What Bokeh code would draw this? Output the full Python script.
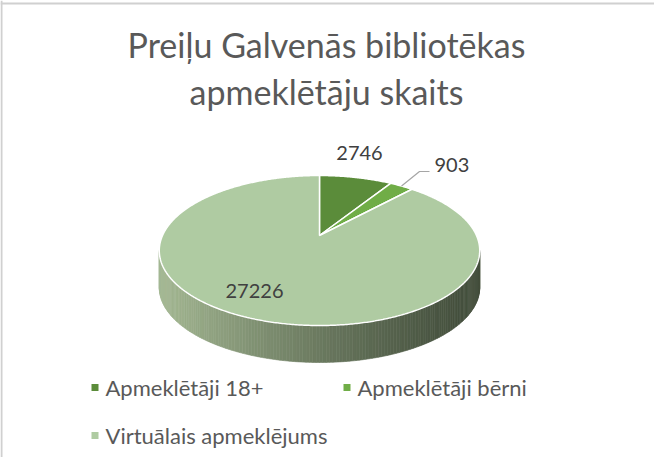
import numpy as np
from bokeh.plotting import figure
from bokeh.models import Range1d, Span
from bokeh.core.properties import value
from bokeh.embed import file_html
from bokeh.resources import INLINE

# ---------------- data ----------------
title_lines = ["Preiļu Galvenās bibliotēkas", "apmeklētāju skaits"]
categories = ["Apmeklētāji 18+", "Apmeklētāji bērni", "Virtuālais apmeklējums"]
visits = [2746, 903, 27226]
colors = ["#5B8C3A", "#70AD47", "#AFCBA2"]

FONT = "Lato"
TXT = "#595959"
LBL = "#404040"

W, H = 654, 457
p = figure(width=W, height=H, x_range=Range1d(0, W), y_range=Range1d(H, 0),
           x_axis_type=None, y_axis_type=None, toolbar_location=None,
           output_backend="svg", min_border=0)
p.grid.visible = False
p.outline_line_color = None
p.background_fill_color = "white"
p.border_fill_color = "white"

# chart-area border (left and top visible)
p.add_layout(Span(location=1, dimension="height", line_color="#D0D0D0", line_width=2))
p.add_layout(Span(location=3, dimension="width", line_color="#D0D0D0", line_width=2))

# ---------------- 3D pie geometry (perspective projection of a disc) ----------------
AX, AY = 319.0, 235.0     # projected pie centre
K, M, C = 157.0, 72.0, 0.2
DEPTH = 37.0


def proj(phi_deg, r=1.0):
    phi = np.radians(phi_deg)
    X = r * np.sin(phi)
    Y = r * np.cos(phi)
    d = 1 + C * Y
    return AX + K * X / d, AY - M * Y / d


total = float(sum(visits))
bounds = np.concatenate([[0.0], np.cumsum(visits) / total * 360.0])

# side band (front half), drawn as strips for a horizontal gradient
phi_r = 90 + np.degrees(np.arcsin(C))
phi_l = 360 - phi_r
N = 160
phis = np.linspace(phi_r, phi_l, N + 1)
sx, sy = proj(phis)
xmin, xmax = sx.min(), sx.max()
light = np.array([165, 185, 148])
dark = np.array([68, 79, 61])
xs_list, ys_list, cols = [], [], []
for i in range(N):
    x0, x1 = sx[i], sx[i + 1]
    y0, y1 = sy[i], sy[i + 1]
    xs_list.append([x0, x1, x1, x0])
    ys_list.append([y0, y1, y1 + DEPTH, y0 + DEPTH])
    t = ((x0 + x1) / 2 - xmin) / (xmax - xmin)
    t = min(1.0, max(0.0, 1 - t))  # 1 at left (light), 0 at right (dark)
    t = t ** 1.3
    c = (dark + (light - dark) * t).astype(int)
    cols.append("#%02x%02x%02x" % tuple(c))
p.patches(xs_list, ys_list, fill_color=cols, line_color=cols, line_width=0.6)

# top faces of the slices
wx, wy = [], []
for i in range(len(visits)):
    a0, a1 = bounds[i], bounds[i + 1]
    arc = np.linspace(a0, a1, max(3, int((a1 - a0) / 0.5)))
    ax_, ay_ = proj(arc)
    wx.append(np.concatenate([[AX], ax_]).tolist())
    wy.append(np.concatenate([[AY], ay_]).tolist())
p.patches(wx, wy, fill_color=colors, line_color="white", line_width=1.5)

# ---------------- data labels ----------------
p.text(x=[359], y=[152], text=[str(visits[0])], text_font=value(FONT),
       text_font_size="20px", text_color=LBL, text_align="center", text_baseline="middle")
p.text(x=[434], y=[164], text=[str(visits[1])], text_font=value(FONT),
       text_font_size="20px", text_color=LBL, text_align="left", text_baseline="middle")
p.text(x=[254], y=[290], text=[str(visits[2])], text_font=value(FONT),
       text_font_size="20px", text_color=LBL, text_align="center", text_baseline="middle")

# leader line for the small slice
mid = (bounds[1] + bounds[2]) / 2
lx, ly = proj(mid)
p.line([lx, 419, 429], [ly, 171, 171], line_color="#A6A6A6", line_width=1.2)

# ---------------- title ----------------
p.text(x=[326, 326], y=[44, 91], text=title_lines, text_font=value(FONT),
       text_font_size="34px", text_color=TXT, text_align="center", text_baseline="middle")

# ---------------- legend ----------------
leg_x = [94.5, 346.5, 94.5]
leg_y = [387, 387, 435]
p.rect(x=leg_x, y=leg_y, width=7, height=7, fill_color=colors, line_color=None)
p.text(x=[x + 10.5 for x in leg_x], y=leg_y, text=categories, text_font=value(FONT),
       text_font_size="22px", text_color=TXT, text_align="left", text_baseline="middle")

open("out.html", "w").write(file_html(p, INLINE))
